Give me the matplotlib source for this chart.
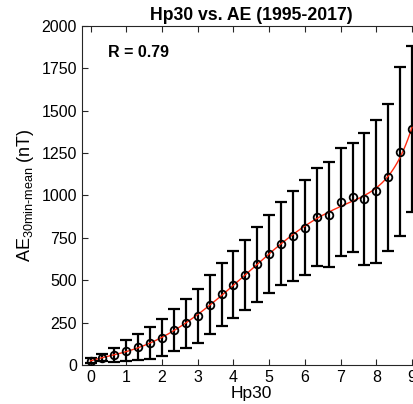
import numpy as np
import matplotlib
matplotlib.use('Agg')
import matplotlib.pyplot as plt

plt.rcParams['font.family'] = ['Liberation Sans', 'DejaVu Sans']
plt.rcParams['mathtext.fontset'] = 'custom'
plt.rcParams['mathtext.rm'] = 'Liberation Sans'
plt.rcParams['mathtext.it'] = 'Liberation Sans'

# Hp30 bins and mean AE with standard deviation
hp30 = np.arange(28) / 3.0
ae_mean = [25, 43, 57, 84, 104, 128, 161, 205, 246, 291, 356, 417, 473, 531,
           594, 657, 716, 763, 810, 873, 887, 960, 989, 978, 1025, 1107, 1258, 1392]
ae_std = [15, 20, 42, 63, 77, 94, 109, 125, 143, 160, 175, 185, 197, 205,
          220, 230, 244, 265, 281, 290, 308, 318, 322, 390, 422, 435, 498, 488]

fig = plt.figure(figsize=(4.14, 4.04), dpi=100)
ax = fig.add_axes([0.198, 0.0965, 0.819, 0.8395])

# smooth fit through the bin means
coef = np.polyfit(hp30, ae_mean, 7)
xf = np.linspace(0, 9, 300)
ax.plot(xf, np.polyval(coef, xf), color='#ff2a10', lw=1.0, zorder=3)

ax.errorbar(hp30, ae_mean, yerr=ae_std, fmt='none', ecolor='black',
            elinewidth=1.6, capsize=4.5, capthick=1.6, zorder=2)
ax.plot(hp30, ae_mean, 'o', mfc='none', mec='black', ms=5.5, mew=1.3, zorder=4)

ax.set_xlim(-0.24, 9.25)
ax.set_ylim(0, 2000)
ax.set_xticks(range(10))
ax.set_yticks(np.arange(0, 2001, 250))
ax.tick_params(direction='in', top=True, right=True, length=4, width=0.8,
               labelsize=11.5, colors='#262626', labelcolor='black')
for s in ax.spines.values():
    s.set_color('#262626')
    s.set_linewidth(0.8)

ax.set_title('Hp30 vs. AE (1995-2017)', fontsize=12.7, fontweight='bold', pad=4)
ax.set_xlabel('Hp30', fontsize=12.5, labelpad=1)
ax.set_ylabel(r'AE$_{\mathrm{30min\text{-}mean}}$ (nT)', fontsize=13, labelpad=4)
ax.text(0.077, 0.92, 'R = 0.79', transform=ax.transAxes, fontsize=11.5,
        fontweight='bold', va='center')

fig.savefig('out.png', dpi=100)
